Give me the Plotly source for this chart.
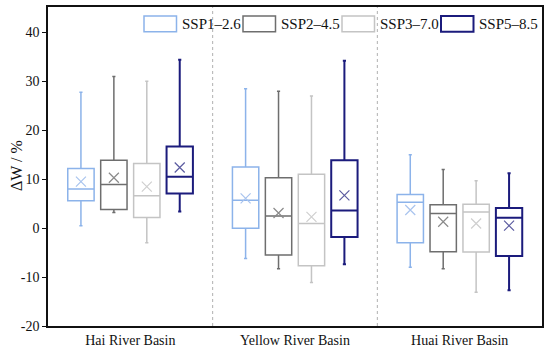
import plotly.graph_objects as go

basins = ["Hai River Basin", "Yellow River Basin", "Huai River Basin"]
scenarios = ["SSP1\u20132.6", "SSP2\u20134.5", "SSP3\u20137.0", "SSP5\u20138.5"]
ytick_vals = [-20, -10, 0, 10, 20, 30, 40]
ytick_text = ["-20", "-10", "0", "10", "20", "30", "40"]
y_title = "\u0394W / %"

# stats per scenario, per basin (Hai, Yellow, Huai)
upper = {
    "SSP1\u20132.6": [27.8, 28.5, 15.0],
    "SSP2\u20134.5": [31.0, 28.0, 12.0],
    "SSP3\u20137.0": [30.0, 27.0, 9.7],
    "SSP5\u20138.5": [34.4, 34.2, 11.2],
}
q3 = {
    "SSP1\u20132.6": [12.2, 12.5, 6.9],
    "SSP2\u20134.5": [13.9, 10.3, 4.8],
    "SSP3\u20137.0": [13.2, 11.0, 4.9],
    "SSP5\u20138.5": [16.7, 13.9, 4.1],
}
median = {
    "SSP1\u20132.6": [8.0, 5.7, 5.3],
    "SSP2\u20134.5": [8.9, 2.5, 3.0],
    "SSP3\u20137.0": [6.6, 0.95, 3.3],
    "SSP5\u20138.5": [10.5, 3.6, 2.1],
}
q1 = {
    "SSP1\u20132.6": [5.6, 0.0, -3.0],
    "SSP2\u20134.5": [3.8, -5.5, -4.8],
    "SSP3\u20137.0": [2.2, -7.7, -4.9],
    "SSP5\u20138.5": [7.1, -1.8, -5.7],
}
lower = {
    "SSP1\u20132.6": [0.5, -6.2, -8.0],
    "SSP2\u20134.5": [3.2, -8.3, -8.3],
    "SSP3\u20137.0": [-3.0, -11.1, -13.1],
    "SSP5\u20138.5": [3.4, -7.4, -12.7],
}
mean = {
    "SSP1\u20132.6": [9.5, 6.1, 3.7],
    "SSP2\u20134.5": [10.3, 3.1, 1.3],
    "SSP3\u20137.0": [8.5, 2.3, 0.95],
    "SSP5\u20138.5": [12.4, 6.7, 0.5],
}

colors = ["#8cb3ea", "#6e6e6e", "#c4c4c4", "#1b1b7c"]
mean_colors = ["#a9c4ee", "#8a8a8a", "#cfcfcf", "#5b5ba0"]
widths = [1.5, 1.5, 1.5, 2.0]

FONT = "Liberation Serif"
fig = go.Figure()
for i, s in enumerate(scenarios):
    fig.add_trace(go.Box(
        name=s, x=basins, q1=q1[s], median=median[s], q3=q3[s],
        lowerfence=lower[s], upperfence=upper[s],
        offsetgroup=s, fillcolor="white",
        line=dict(color=colors[i], width=widths[i]),
        whiskerwidth=0.12, showlegend=False,
    ))
    fig.add_trace(go.Scatter(
        x=basins, y=mean[s], mode="markers", offsetgroup=s,
        marker=dict(symbol="x-thin", size=10, color=mean_colors[i],
                    line=dict(color=mean_colors[i], width=1.2)),
        showlegend=False, hoverinfo="skip",
    ))

W, H = 550, 353
ml, mr, mt, mb = 48, 8, 5, 26
pw, ph = W - ml - mr, H - mt - mb

def px_x(p):
    return (p - ml) / pw

def px_y(p):
    return 1 - (p - mt) / ph

shapes = []
annotations = []
# category dividers
for k in range(len(basins) - 1):
    shapes.append(dict(type="line", xref="x", yref="paper", x0=k + 0.5, x1=k + 0.5,
                       y0=0, y1=1, line=dict(color="#b0b0b0", width=1, dash="dot")))
# custom legend
for i, s in enumerate(scenarios):
    x0 = 144 + i * 99
    shapes.append(dict(type="rect", xref="paper", yref="paper",
                       x0=px_x(x0), x1=px_x(x0 + 32.5), y0=px_y(30), y1=px_y(14),
                       line=dict(color=colors[i], width=widths[i]), fillcolor="white"))
    annotations.append(dict(xref="paper", yref="paper", x=px_x(x0 + 35.5), y=px_y(22),
                            xanchor="left", yanchor="middle", text=s, showarrow=False,
                            font=dict(family=FONT, size=15, color="#111")))
# y-axis title
annotations.append(dict(xref="paper", yref="paper", x=px_x(16.5), y=px_y(165),
                        xanchor="center", yanchor="middle", text=y_title, textangle=-90,
                        showarrow=False, font=dict(family=FONT, size=16, color="#111")))

fig.update_layout(
    width=W, height=H, margin=dict(l=ml, r=mr, t=mt, b=mb),
    paper_bgcolor="white", plot_bgcolor="white",
    boxmode="group", boxgap=0.2, boxgroupgap=0.2,
    scattermode="group", scattergap=0.2,
    font=dict(family=FONT, size=14, color="#111"),
    shapes=shapes, annotations=annotations,
    showlegend=False,
    xaxis=dict(type="category", showline=True, linecolor="#111", linewidth=1.5,
               mirror=True, ticks="", showgrid=False, zeroline=False,
               tickfont=dict(family=FONT, size=14)),
    yaxis=dict(range=[-20, 45.2], tickmode="array", tickvals=ytick_vals, ticktext=ytick_text,
               showline=True, linecolor="#111",
               linewidth=1.5, mirror=True, ticks="outside", ticklen=4, tickwidth=1.2,
               tickcolor="#111", showgrid=False, zeroline=False,
               tickfont=dict(family=FONT, size=14)),
)

fig.write_html("out.html", config={"displayModeBar": False},
               post_script="document.body.style.margin='0';document.body.style.padding='0';")
